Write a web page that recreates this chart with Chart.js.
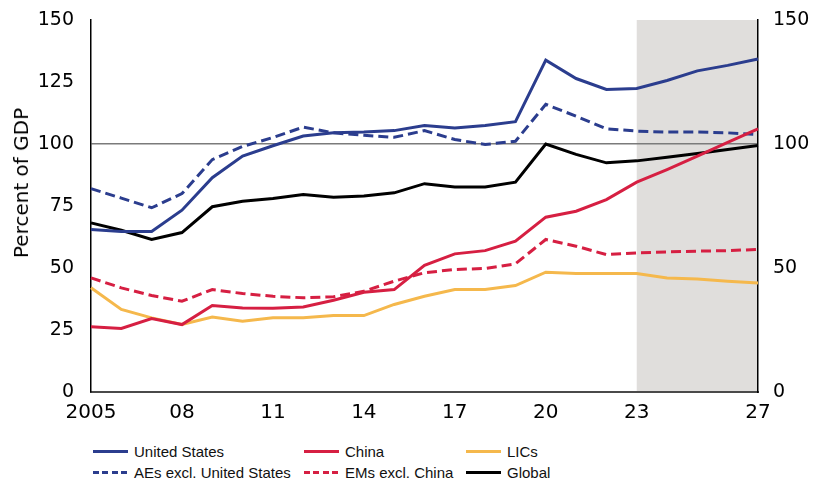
<!DOCTYPE html>
<html>
<head>
<meta charset="utf-8">
<script src="https://cdn.jsdelivr.net/npm/chart.js@4.4.1/dist/chart.umd.min.js"></script>
<style>
  html, body { margin: 0; padding: 0; background: #fff; }
  .wrap { position: relative; width: 814px; height: 481px; }
  .chart-box { position: absolute; left: 0; top: 0; width: 814px; height: 430px; }
  .y-title {
    position: absolute; left: 21px; top: 183px;
    transform: translate(-50%, -50%) rotate(-90deg);
    font-family: 'DejaVu Sans', sans-serif; font-size: 20px; color: #000;
    white-space: nowrap; line-height: 1;
  }
  #debt-legend { position: absolute; left: 93px; top: 441px; }
  #debt-legend ul {
    list-style: none; margin: 0; padding: 0;
    display: grid; grid-template-columns: 211px 162px 200px; row-gap: 0;
  }
  #debt-legend li {
    display: flex; align-items: center; height: 21px;
    font-family: 'Liberation Sans', sans-serif;
    font-size: 15px; color: #111; white-space: nowrap;
  }
  #debt-legend li span { display: inline-block; width: 35px; height: 3px; margin-right: 6px; }
</style>
</head>
<body>
<div class="wrap">
  <div class="chart-box"><canvas id="debt-chart" width="814" height="430"></canvas></div>
  <div class="y-title">Percent of GDP</div>
  <div id="debt-legend"></div>
</div>
<script>
// categories
var years = [2005, 2006, 2007, 2008, 2009, 2010, 2011, 2012, 2013, 2014, 2015, 2016,
             2017, 2018, 2019, 2020, 2021, 2022, 2023, 2024, 2025, 2026, 2027];

// x tick labels shown on the axis
var tickYears = [2005, 2008, 2011, 2014, 2017, 2020, 2023, 2027];
var tickLabels = ['2005', '08', '11', '14', '17', '20', '23', '27'];

// projections start here
var projectionStart = 2023;

// series, percent of GDP
var unitedStates = [65.5, 64.7, 64.7, 73.3, 86.4, 95.1, 99.3, 103.2, 104.5, 104.8, 105.4, 107.5,
                    106.5, 107.5, 109.0, 133.8, 126.4, 122.0, 122.4, 125.6, 129.5, 131.7, 134.3];
var china = [26.3, 25.6, 29.6, 27.2, 34.9, 33.9, 33.8, 34.3, 37.0, 40.2, 41.3, 51.1,
             55.7, 57.0, 60.8, 70.5, 72.9, 77.6, 84.6, 89.7, 95.1, 100.7, 106.1];
var lics = [42.0, 33.3, 29.9, 27.2, 30.2, 28.5, 29.9, 29.9, 30.8, 30.8, 35.3, 38.6,
            41.3, 41.3, 42.9, 48.3, 47.8, 47.8, 47.8, 46.0, 45.6, 44.7, 44.0];
var aesExclUS = [82.0, 78.2, 74.3, 80.0, 93.7, 99.0, 102.6, 106.8, 104.5, 103.5, 102.7, 105.4,
                 101.8, 99.8, 101.1, 116.0, 111.2, 106.1, 105.2, 104.8, 104.8, 104.5, 103.8];
var emsExclChina = [46.0, 42.0, 38.9, 36.6, 41.3, 39.7, 38.6, 38.0, 38.4, 40.6, 44.7, 48.1,
                    49.4, 49.8, 51.7, 61.5, 58.8, 55.4, 56.1, 56.5, 56.8, 57.0, 57.5];
var globalDebt = [68.2, 65.2, 61.5, 64.3, 74.7, 76.9, 78.0, 79.6, 78.5, 79.0, 80.3, 84.0,
                  82.7, 82.7, 84.6, 100.0, 95.8, 92.4, 93.2, 94.7, 96.2, 97.8, 99.4];

(function () {
  'use strict';

  var blue = '#2b3d8e';
  var red = '#d61f42';
  var yellow = '#f5b84c';
  var tickFont = { family: 'DejaVu Sans', size: 19 };

  function series(label, data, color, dashed) {
    return {
      label: label,
      data: data,
      borderColor: color,
      backgroundColor: color,
      borderWidth: 3,
      borderDash: dashed ? [10, 5] : [],
      pointRadius: 0,
      tension: 0,
      fill: false,
      dashed: dashed
    };
  }

  var shadePlugin = {
    id: 'projectionShade',
    beforeDraw: function (chart) {
      var area = chart.chartArea;
      var x = chart.scales.x;
      var x0 = x.getPixelForValue(years.indexOf(projectionStart));
      var ctx = chart.ctx;
      ctx.save();
      ctx.fillStyle = '#e0dedc';
      ctx.fillRect(x0, area.top, area.right - x0, area.bottom - area.top);
      ctx.restore();
    }
  };

  // fixed axis widths, no extra room for the top label
  function fixY(width) {
    return function (scale) {
      scale.width = width;
      scale.paddingTop = 0;
      scale.paddingBottom = 0;
    };
  }

  var ctx = document.getElementById('debt-chart');

  new Chart(ctx, {
    type: 'line',
    data: {
      labels: years,
      datasets: [
        series('United States', unitedStates, blue, false),
        series('China', china, red, false),
        series('LICs', lics, yellow, false),
        series('AEs excl. United States', aesExclUS, blue, true),
        series('EMs excl. China', emsExclChina, red, true),
        series('Global', globalDebt, '#000', false)
      ]
    },
    options: {
      responsive: false,
      animation: false,
      layout: { padding: { top: 20, right: 0, bottom: 0, left: 0 } },
      scales: {
        x: {
          offset: false,
          grid: { display: false, drawTicks: false },
          border: { display: true, color: '#4a4a4a', width: 2 },
          ticks: {
            autoSkip: false,
            maxRotation: 0,
            padding: 9,
            color: '#000',
            font: { family: 'DejaVu Sans', size: 20 },
            callback: function (value, index) {
              var i = tickYears.indexOf(years[index]);
              return i >= 0 ? tickLabels[i] : null;
            }
          },
          afterFit: function (scale) { scale.height = 38; }
        },
        y: {
          position: 'left',
          min: 0,
          max: 150,
          grid: {
            drawTicks: false,
            color: function (c) { return c.tick && c.tick.value === 100 ? '#7b7b7b' : 'rgba(0,0,0,0)'; },
            lineWidth: 1.5
          },
          border: { display: true, color: '#000', width: 1.5 },
          ticks: { stepSize: 25, padding: 17, color: '#000', font: tickFont },
          afterFit: fixY(91)
        },
        y2: {
          position: 'right',
          min: 0,
          max: 150,
          grid: { display: false, drawTicks: false },
          border: { display: true, color: '#000', width: 1.5 },
          ticks: { stepSize: 50, padding: 15, color: '#000', font: tickFont },
          afterFit: fixY(56)
        }
      },
      plugins: {
        legend: { display: false },
        tooltip: { enabled: false }
      }
    },
    plugins: [shadePlugin, {
      afterDatasetUpdate: function (chart) {
        var ul = document.createElement('ul');
        chart.data.datasets.forEach(function (ds) {
          var c = ds.borderColor;
          var bg = ds.dashed
            ? 'repeating-linear-gradient(to right, ' + c + ' 0 6px, transparent 6px 9.5px)'
            : c;
          ul.innerHTML += '<li><span style="background: ' + bg + '"></span>' + ds.label + '</li>';
        });
        document.getElementById('debt-legend').innerHTML = '';
        document.getElementById('debt-legend').appendChild(ul);
      }
    }]
  });
})();
</script>
</body>
</html>
